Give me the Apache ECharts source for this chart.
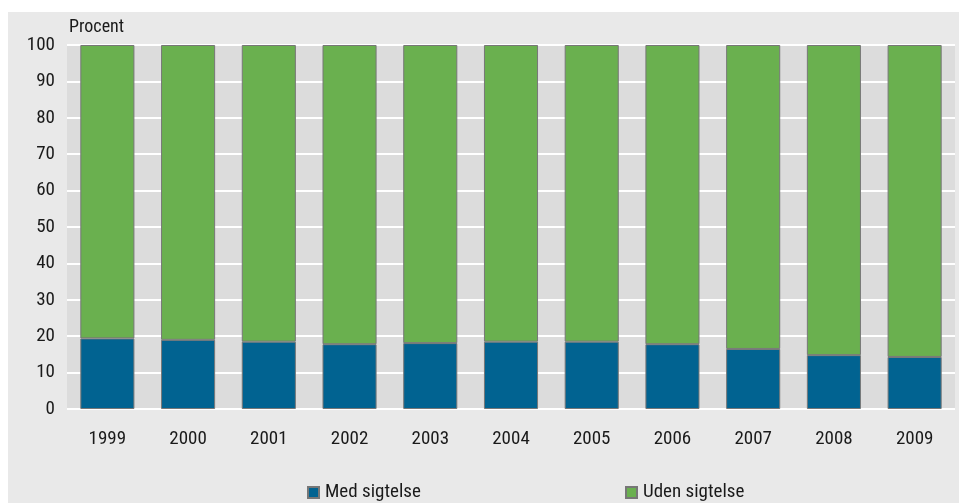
<!DOCTYPE html>
<html><head><meta charset="utf-8">
<script src="https://cdn.jsdelivr.net/npm/echarts@6/dist/echarts.min.js"></script>
<style>html,body{margin:0;padding:0;background:#fff}#c{width:959px;height:503px}</style>
</head><body><div id="c"></div>
<script>
var years = ['1999','2000','2001','2002','2003','2004','2005','2006','2007','2008','2009'];
var medSigtelse = [19.4, 19.0, 18.5, 17.8, 18.1, 18.5, 18.5, 17.8, 16.5, 14.8, 14.3];
var udenSigtelse = medSigtelse.map(function(v){ return +(100 - v).toFixed(1); });
var yTicks = [0,10,20,30,40,50,60,70,80,90,100];
var FONT = '"Liberation Sans Narrow", "Roboto Condensed", "Open Sans", sans-serif';
var chart = echarts.init(document.getElementById('c'));
chart.setOption({
  backgroundColor: '#ffffff',
  animation: false,
  graphic: [{type:'rect', z:-10, silent:true, shape:{x:8,y:12,width:951,height:491}, style:{fill:'#e9e9e9'}},
            {type:'text', left:69, top:18, style:{text:'Procent', font:'18px ' + FONT, fill:'#1a1a1a'}}],
  grid: {left:67, right:4, top:45, bottom:94, show:true, backgroundColor:'#dcdcdc', borderWidth:0},
  legend: [
    {data:['Med sigtelse'], left:307, top:483, padding:0, itemWidth:11, itemHeight:11, icon:'rect',
     textStyle:{fontSize:19, fontFamily:FONT, color:'#1a1a1a', padding:[0,0,0,1]}},
    {data:['Uden sigtelse'], left:625, top:483, padding:0, itemWidth:11, itemHeight:11, icon:'rect',
     textStyle:{fontSize:19, fontFamily:FONT, color:'#1a1a1a', padding:[0,0,0,1]}}
  ],
  xAxis: {type:'category', data:years, axisLine:{show:false}, axisTick:{show:false},
    axisLabel:{fontSize:19, fontFamily:FONT, color:'#1a1a1a', margin:21}},
  yAxis: {type:'value', min:0, max:100, interval:10, axisLine:{show:false}, axisTick:{show:false},
    splitLine:{lineStyle:{color:'#ffffff', width:2}},
    axisLabel:{fontSize:19, fontFamily:FONT, color:'#1a1a1a', margin:12,
      formatter:function(v){ return yTicks.indexOf(v) >= 0 ? String(v) : ''; }}},
  series: [
    {name:'Med sigtelse', type:'bar', stack:'a', barWidth:'67%', data:medSigtelse,
     itemStyle:{color:'#016391', borderColor:'#777777', borderWidth:1}},
    {name:'Uden sigtelse', type:'bar', stack:'a', barWidth:'67%', data:udenSigtelse,
     itemStyle:{color:'#6ab04f', borderColor:'#777777', borderWidth:1}}
  ]
});
</script></body></html>
